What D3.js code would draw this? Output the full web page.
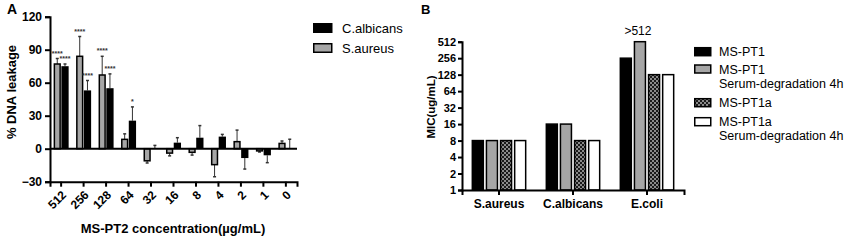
<!DOCTYPE html>
<html>
<head>
<meta charset="utf-8">
<script src="https://cdn.jsdelivr.net/npm/d3@7"></script>
<style>
  body { margin: 0; background: #fff; }
  svg { display: block; font-family: "Liberation Sans", Arial, sans-serif; }
</style>
</head>
<body>
<svg id="chart" width="844" height="242"></svg>
<script>
// panel A data: % DNA leakage
const concentrations = ["512", "256", "128", "64", "32", "16", "8", "4", "2", "1", "0"];
const saureus = [77, 84, 67, 8.5, -11, -4, -3.3, -14.5, 6.4, -2, 4.8];
const saureusErr = [5, 18, 17, 5, 2, 2.5, 2.5, 11, 10.5, 1, 2.2];
const calbicans = [75, 53, 55, 25.5, 0.5, 5.5, 10, 11, -8.5, -6, 0.6];
const calbicansErr = [2, 9, 13, 12.5, 2.5, 4.5, 11, 2, 10, 6.7, 8];
const saureusSig = ["****", "****", "****", "", "", "", "", "", "", "", ""];
const calbicansSig = ["****", "****", "****", "*", "", "", "", "", "", "", ""];
const leakTicks = [-30, 0, 30, 60, 90, 120];

// panel B data: MIC
const organisms = ["S.aureus", "C.albicans", "E.coli"];
const peptides = ["MS-PT1", "MS-PT1 serum", "MS-PT1a", "MS-PT1a serum"];
const peptideLabels = [["MS-PT1"], ["MS-PT1", "Serum-degradation 4h"], ["MS-PT1a"], ["MS-PT1a", "Serum-degradation 4h"]];
const micPT1 = [8, 16, 256];
const micPT1Serum = [8, 16, 512];
const micPT1a = [8, 8, 128];
const micPT1aSerum = [8, 8, 128];
const micNotes = ["", "", ">512"];
const micTicks = [1, 2, 4, 8, 16, 32, 64, 128, 256, 512];

const svg = d3.select("#chart");
const GRAY = "#a6a6a6";

const defs = svg.append("defs");
const pat = defs.append("pattern")
  .attr("id", "checker")
  .attr("width", 4).attr("height", 4)
  .attr("patternUnits", "userSpaceOnUse");
pat.append("rect").attr("width", 4).attr("height", 4).attr("fill", "#1a1a1a");
pat.append("rect").attr("width", 2).attr("height", 2).attr("fill", "#8a8a8a");
pat.append("rect").attr("x", 2).attr("y", 2).attr("width", 2).attr("height", 2).attr("fill", "#8a8a8a");

// ---------- Panel A ----------
const gA = svg.append("g");
const x0A = d3.scaleBand().domain(concentrations).range([50, 297]).paddingInner(0.29).paddingOuter(0.14);
const x1A = d3.scaleBand().domain(["S.aureus", "C.albicans"]).range([0, x0A.bandwidth()]).padding(0.06);
const yA = d3.scaleLinear().domain([-30, 120]).range([181.7, 16.7]);

const rowsA = concentrations.map((c, i) => [
  { c, s: "S.aureus", v: saureus[i], e: saureusErr[i], sig: saureusSig[i] },
  { c, s: "C.albicans", v: calbicans[i], e: calbicansErr[i], sig: calbicansSig[i] },
]).flat();

// error bars
const errA = gA.append("g").attr("stroke", "#333").attr("stroke-width", 1);
rowsA.forEach((d) => {
  const cx = x0A(d.c) + x1A(d.s) + x1A.bandwidth() / 2;
  const end = d.v >= 0 ? d.v + d.e : d.v - d.e;
  errA.append("line").attr("x1", cx).attr("x2", cx).attr("y1", yA(d.v)).attr("y2", yA(end));
  errA.append("line").attr("x1", cx - 1.5).attr("x2", cx + 1.5).attr("y1", yA(end)).attr("y2", yA(end)).attr("stroke-width", 1.5);
});

gA.append("g").selectAll("rect").data(rowsA).join("rect")
  .attr("x", (d) => x0A(d.c) + x1A(d.s) + (d.s === "S.aureus" ? 0.75 : 0))
  .attr("width", (d) => x1A.bandwidth() - (d.s === "S.aureus" ? 1.5 : 0))
  .attr("y", (d) => Math.min(yA(d.v), yA(0)))
  .attr("height", (d) => Math.abs(yA(d.v) - yA(0)))
  .attr("fill", (d) => (d.s === "S.aureus" ? GRAY : "#000"))
  .attr("stroke", (d) => (d.s === "S.aureus" ? "#000" : "none"))
  .attr("stroke-width", 1.5);

gA.append("g").selectAll("text").data(rowsA.filter((d) => d.sig)).join("text")
  .attr("x", (d) => x0A(d.c) + x1A(d.s) + x1A.bandwidth() / 2)
  .attr("y", (d) => yA(d.v + d.e) - 3)
  .attr("text-anchor", "middle")
  .attr("font-size", 7)
  .attr("font-weight", "bold")
  .attr("fill", "#333")
  .text((d) => d.sig);

// zero line
gA.append("line")
  .attr("x1", 50).attr("x2", 297)
  .attr("y1", yA(0)).attr("y2", yA(0))
  .attr("stroke", "#000").attr("stroke-width", 2);

const yAxisA = gA.append("g").attr("transform", "translate(50,0)")
  .call(d3.axisLeft(yA).tickValues(leakTicks).tickSize(5).tickPadding(3));
const xAxisA = gA.append("g").attr("transform", `translate(0,${yA(-30)})`)
  .call(d3.axisBottom(x0A).tickSize(5).tickFormat(""));
[yAxisA, xAxisA].forEach((ax) => {
  ax.select(".domain").attr("stroke-width", 2);
  ax.selectAll(".tick line").attr("stroke-width", 2);
});
yAxisA.selectAll("text").attr("font-size", 12).attr("font-weight", "bold").attr("font-family", null);
xAxisA.selectAll(".tick").append("text")
  .attr("transform", "translate(3,11) rotate(-45)")
  .attr("text-anchor", "end")
  .attr("dy", "0.35em")
  .attr("fill", "#000")
  .attr("font-size", 12)
  .attr("font-weight", "bold")
  .text((d) => d);

gA.append("text")
  .attr("transform", "translate(16,92) rotate(-90)")
  .attr("text-anchor", "middle")
  .attr("font-size", 13).attr("font-weight", "bold")
  .text("% DNA leakage");
gA.append("text")
  .attr("x", 173).attr("y", 233)
  .attr("text-anchor", "middle")
  .attr("font-size", 13).attr("font-weight", "bold")
  .text("MS-PT2 concentration(µg/mL)");
gA.append("text")
  .attr("x", 7).attr("y", 14)
  .attr("font-size", 14).attr("font-weight", "bold")
  .text("A");

// legend A
const legA = gA.append("g").attr("transform", "translate(313,0)");
[["C.albicans", "#000", 28], ["S.aureus", GRAY, 48]].forEach(([label, fill, cy]) => {
  legA.append("rect").attr("x", 0.75).attr("y", cy - 4.25).attr("width", 18).attr("height", 8.5)
    .attr("fill", fill).attr("stroke", "#000").attr("stroke-width", 1.5);
  legA.append("text").attr("x", 29).attr("y", cy).attr("dy", "0.36em").attr("font-size", 13).text(label);
});

// ---------- Panel B ----------
const gB = svg.append("g");
const x0B = d3.scaleBand().domain(organisms).range([462, 684]).paddingInner(0.195).paddingOuter(0.0975);
const x1B = d3.scaleBand().domain(peptides).range([0, x0B.bandwidth()]).padding(0.22);
const yB = d3.scaleLog().base(2).domain([1, 512]).range([190, 41.7]);

const micSeries = [micPT1, micPT1Serum, micPT1a, micPT1aSerum];
const fills = ["#000", GRAY, "url(#checker)", "#fff"];
const rowsB = organisms.map((o, i) => peptides.map((p, j) => ({ o, p, j, v: micSeries[j][i], note: j === 1 ? micNotes[i] : "" }))).flat();

gB.append("g").selectAll("rect").data(rowsB).join("rect")
  .attr("x", (d) => x0B(d.o) + x1B(d.p))
  .attr("width", x1B.bandwidth())
  .attr("y", (d) => yB(d.v))
  .attr("height", (d) => yB(1) - yB(d.v))
  .attr("fill", (d) => fills[d.j])
  .attr("stroke", "#000")
  .attr("stroke-width", 1.5);

gB.append("g").selectAll("text").data(rowsB.filter((d) => d.note)).join("text")
  .attr("x", (d) => x0B(d.o) + x1B(d.p) + x1B.bandwidth() / 2 - 2)
  .attr("y", (d) => yB(d.v) - 7)
  .attr("text-anchor", "middle")
  .attr("font-size", 12)
  .text((d) => d.note);

const yAxisB = gB.append("g").attr("transform", "translate(462,0)")
  .call(d3.axisLeft(yB).tickValues(micTicks).tickFormat(d3.format("d")).tickSize(4).tickPadding(2));
const xAxisB = gB.append("g").attr("transform", `translate(0,${yB(1)})`)
  .call(d3.axisBottom(x0B).tickSize(5).tickPadding(4));
[yAxisB, xAxisB].forEach((ax) => {
  ax.select(".domain").attr("stroke-width", 2);
  ax.selectAll(".tick line").attr("stroke-width", 2);
  ax.selectAll("text").attr("font-weight", "bold").attr("font-family", null);
});
yAxisB.selectAll("text").attr("font-size", 11);
xAxisB.selectAll("text").attr("font-size", 12);

gB.append("text")
  .attr("transform", "translate(435,107) rotate(-90)")
  .attr("text-anchor", "middle")
  .attr("font-size", 11.5).attr("font-weight", "bold")
  .text("MIC(ug/mL)");
gB.append("text")
  .attr("x", 421).attr("y", 14)
  .attr("font-size", 13).attr("font-weight", "bold")
  .text("B");

// legend B
const legB = gB.append("g").attr("transform", "translate(694,0)");
const legRows = [51.7, 69, 102.7, 121.7];
peptideLabels.forEach((lines, j) => {
  const cy = legRows[j];
  legB.append("rect").attr("x", 0.75).attr("y", cy - 4).attr("width", 16).attr("height", 8)
    .attr("fill", fills[j]).attr("stroke", "#000").attr("stroke-width", 1.5);
  lines.forEach((t, k) => {
    legB.append("text").attr("x", 25).attr("y", cy + k * 14).attr("dy", "0.36em")
      .attr("font-size", 12.5).text(t);
  });
});
</script>
</body>
</html>
